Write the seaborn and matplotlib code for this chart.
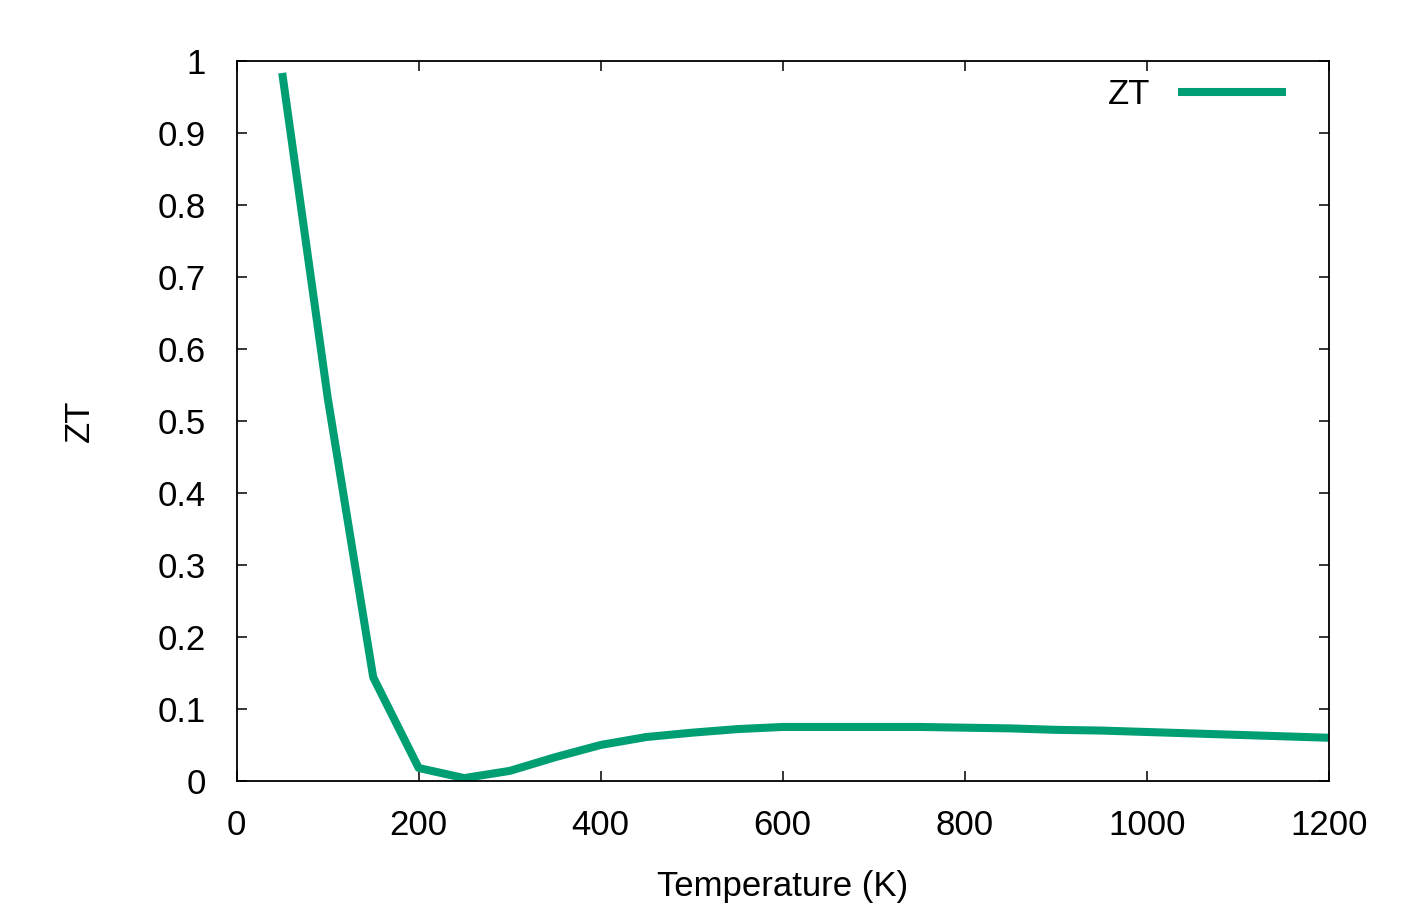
import numpy as np
import matplotlib
matplotlib.use("Agg")
import matplotlib.pyplot as plt
import matplotlib.ticker as mticker
import seaborn as sns
import pandas as pd

# temperature (K) and ZT
temperature = [50, 100, 150, 200, 250, 300, 350, 400, 450, 500, 550, 600,
               650, 700, 750, 800, 850, 900, 950, 1000, 1050, 1100, 1150, 1200]
zt = [0.983, 0.532, 0.144, 0.018, 0.004, 0.014, 0.033, 0.050, 0.061, 0.067,
      0.072, 0.075, 0.075, 0.075, 0.075, 0.074, 0.073, 0.071, 0.070, 0.068,
      0.066, 0.064, 0.062, 0.060]

data = pd.DataFrame({"Temperature": temperature, "ZT": zt})

sns.set_style("ticks")
plt.rcParams["font.family"] = ["Liberation Sans", "DejaVu Sans"]
plt.rcParams["text.color"] = "black"
plt.rcParams["axes.labelcolor"] = "black"

fig = plt.figure(figsize=(14.09, 9.06), dpi=100)
ax = fig.add_axes([0.168, 0.138, 0.775, 0.795])

sns.lineplot(x="Temperature", y="ZT", data=data, ax=ax, color="#009E73",
             linewidth=5.8, label="ZT", solid_capstyle="butt")

ax.set_xlim(0, 1200)
ax.set_ylim(0, 1)
ax.xaxis.set_major_locator(mticker.MultipleLocator(200))
ax.yaxis.set_major_locator(mticker.MultipleLocator(0.1))
ax.yaxis.set_major_formatter(mticker.FuncFormatter(lambda v, p: "%g" % round(v, 2)))
ax.tick_params(direction="in", length=7, width=1.1, labelsize=25,
               top=True, right=True, colors="black")
ax.tick_params(axis="y", pad=22)
ax.tick_params(axis="x", pad=20)
for s in ax.spines.values():
    s.set_linewidth(1.3)
    s.set_color("black")

ax.set_xlabel("Temperature (K)", fontsize=25, labelpad=20)
ax.set_ylabel("ZT", fontsize=25, labelpad=45)

leg = ax.legend(loc="upper right", frameon=False, fontsize=25, markerfirst=False,
                handlelength=3.1, borderaxespad=0.2, bbox_to_anchor=(0.98, 1.005))

fig.savefig("out.png", dpi=100)
